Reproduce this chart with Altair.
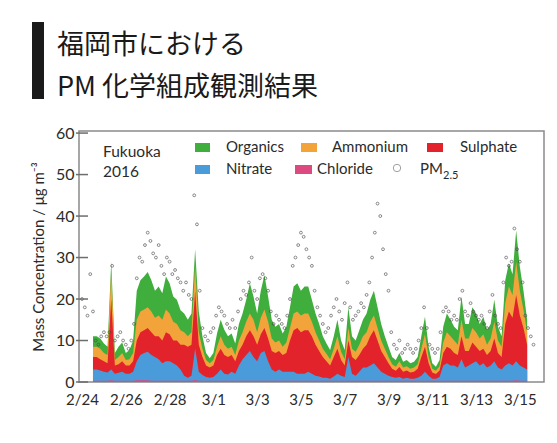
import altair as alt
import pandas as pd

# ---------------- data ----------------
# cumulative tops of the stacked composition, 4-hourly from 2016-02-24 12:00 UTC
total_top = [  # Organics top (= sum of all components)
    11, 11, 10.5,
    9.3, 8.5, 29, 7, 8.5, 9.5,
    7, 7.7, 10, 22, 24.5, 25.4,
    26.5, 24.5, 22, 23, 21.4, 25.4,
    23.8, 20.6, 19.8, 17.3, 16.5, 15,
    16.5, 32, 17, 11, 7, 5.7,
    7, 11.7, 15, 12.6, 11, 11.7,
    9.3, 14, 16.5, 19.8, 23.8, 20.6,
    16.5, 22, 25.8, 20.6, 15, 13.3,
    14, 11.7, 13.3, 18, 23, 23.8,
    22, 23, 23, 19.8, 16.5, 14,
    11, 9.3, 7.7, 11, 15, 10,
    7.7, 18, 11, 10, 12.5, 15,
    16.5, 19.8, 22, 18, 14, 11,
    8.5, 6, 5.3, 7, 4.9, 5.3,
    4.5, 4.9, 6, 11, 15.7, 8.5,
    4.5, 3.7, 5.3, 13.3, 16.5, 15,
    13.3, 12.5, 20.6, 14, 14, 18,
    16.5, 14, 15.7, 12.5, 14, 19.8,
    13.3, 11, 24.5, 28.6, 26, 36.5,
    27.8, 22, 15,
]
ammonium_top = [
    8.5, 8.5, 8,
    7, 6.5, 27, 5.3, 6, 7,
    5.3, 5.5, 7, 15, 17, 17.5,
    18, 17, 15.5, 16, 15, 17.5,
    16.5, 14.5, 14, 12.5, 12, 11,
    12, 28, 12, 8, 5.3, 4.5,
    5.3, 8.5, 11, 9, 8, 8.5,
    6.5, 10, 12, 14.5, 16.5, 15,
    12, 15.5, 17.5, 14.5, 10.5, 9.5,
    10, 8.5, 9.5, 13, 16.5, 17,
    16, 16.5, 16.5, 14.5, 12, 10,
    8, 6.8, 5.5, 8, 11, 7.3,
    5.5, 13, 8, 7.3, 9, 11,
    12, 14.5, 16, 13, 10, 8,
    6, 4.3, 3.7, 5, 3.5, 3.8,
    3.2, 3.5, 4.3, 8, 11.5, 6,
    3.2, 2.7, 3.8, 9.5, 12, 11,
    10, 9, 15, 10.5, 10.5, 13,
    12, 10.5, 11.5, 9, 10.5, 14.5,
    10, 8.5, 19, 23, 21, 29,
    22, 17.5, 12,
]
sulphate_top = [
    6, 6, 5.5,
    5, 4.5, 20, 4, 4.3, 5,
    4, 4, 5, 10, 12, 12.5,
    13, 12, 11, 11, 10, 12,
    11.5, 10, 10, 9, 9, 8.5,
    9, 22, 9, 6, 4, 3.5,
    4, 6.5, 8, 6.5, 6, 6.5,
    5, 7.5, 9, 11, 12.5, 11,
    9, 11.5, 13, 10.5, 7.5, 7,
    7.5, 6.5, 7, 10, 12.5, 13,
    12, 12.5, 12.5, 11, 9, 7.5,
    6, 5, 4, 6, 8, 5.3,
    4, 10, 6, 5.3, 6.5, 8,
    9, 11, 12.5, 10, 7.5, 6,
    4.5, 3.2, 2.7, 3.6, 2.5, 2.8,
    2.3, 2.5, 3.2, 6, 8.5, 4.5,
    2.3, 1.9, 2.8, 7, 8.5, 8,
    7, 6.5, 11, 7.5, 7.5, 9.5,
    8.5, 7.5, 8, 6.5, 7.5, 10.5,
    7, 6, 14, 17, 15.5, 21,
    16, 13, 9,
]
nitrate_top = [
    3, 3, 2.8,
    2.5, 2.3, 3, 2, 2.2, 2.5,
    2, 2, 2.5, 5, 6.5, 7,
    7.3, 6.5, 6, 5.5, 4.5, 5,
    5, 4.5, 4, 3, 1.5, 1,
    1.5, 8, 2.5, 1.7, 1.2, 1,
    1.2, 2, 3, 2, 1.8, 2.5,
    2, 4, 5.5, 6.5, 7.5, 6,
    5, 7, 7.5, 5, 3, 2.5,
    3, 2.5, 2.5, 2.5, 2.5, 2,
    2, 2, 2.5, 2, 1.5, 1.3,
    1, 1, 0.8, 1.3, 2, 1.5,
    1.2, 6, 2, 1.5, 2.5, 3.5,
    3.5, 4, 4.5, 3.5, 2.5, 2,
    1.5, 1.2, 1, 1.2, 0.8, 1,
    0.8, 0.8, 1, 1.5, 2.5, 1.5,
    0.8, 0.8, 1.2, 4, 4.5, 4,
    4, 3.5, 5.5, 3.5, 4, 4.5,
    5, 4, 4.5, 3.5, 4, 5,
    3.5, 3, 4, 4.5, 4, 5,
    4, 3.5, 3,
]
chloride = [
    0.3, 0.3, 0.3,
    0.3, 0.3, 0.4, 0.3, 0.3, 0.3,
    0.3, 0.3, 0.3, 0.4, 0.4, 0.4,
    0.4, 0.3, 0.3, 0.3, 0.3, 0.3,
    0.3, 0.3, 0.3, 0.3, 0.3, 0.3,
    0.3, 0.5, 0.3, 0.3, 0.3, 0.3,
    0.3, 0.3, 0.3, 0.3, 0.3, 0.3,
    0.3, 0.3, 0.3, 0.3, 0.3, 0.3,
    0.3, 0.3, 0.3, 0.3, 0.3, 0.3,
    0.3, 0.3, 0.3, 0.3, 0.3, 0.3,
    0.3, 0.3, 0.3, 0.3, 0.3, 0.3,
    0.3, 0.3, 0.3, 0.3, 0.3, 0.3,
    0.3, 0.3, 0.3, 0.3, 0.3, 0.3,
    0.3, 0.3, 0.3, 0.3, 0.3, 0.3,
    0.3, 0.3, 0.3, 0.3, 0.3, 0.3,
    0.3, 0.3, 0.3, 0.3, 0.3, 0.3,
    0.3, 0.3, 0.3, 0.3, 0.3, 0.3,
    0.3, 0.3, 0.3, 0.3, 0.3, 0.3,
    0.3, 0.3, 0.3, 0.3, 0.3, 0.3,
    0.3, 0.3, 0.3, 0.3, 0.3, 0.4,
    0.3, 0.3, 0.3,
]
# PM2.5 mass, 3-hourly from 2016-02-24 00:00 UTC
pm25 = [
    20, 18, 16, 26, 17,
    10, 9, 11, 12,
    11, 12, 28, 10,
    11, 12, 10, 9,
    8, 10, 14, 25,
    30, 29, 33, 36,
    34, 31, 30, 33,
    28, 26, 30, 29,
    26, 27, 25, 24,
    22, 24, 21, 20,
    45, 38, 22, 13,
    11, 10, 12, 13,
    16, 18, 17, 16,
    14, 13, 15, 13,
    17, 20, 22, 21,
    24, 30, 22, 20,
    25, 26, 25, 22,
    17, 14, 16, 15,
    14, 13, 16, 20,
    28, 30, 33, 36,
    35, 32, 30, 28,
    22, 18, 16, 14,
    12, 13, 16, 18,
    20, 17, 15, 19,
    24, 18, 15, 16,
    17, 19, 18, 21,
    24, 30, 36, 43,
    40, 32, 26, 22,
    12, 9, 8, 10,
    7, 8, 9, 8,
    7, 8, 10, 13,
    18, 13, 9, 8,
    7, 8, 12, 17,
    18, 17, 15, 16,
    15, 20, 22, 17,
    16, 19, 17, 16,
    15, 16, 14, 13,
    17, 21, 16, 14,
    13, 24, 30, 28,
    29, 37, 32, 29,
    24, 16, 13, 11,
    9,
]
tick_dates = [(2, 24), (2, 26), (2, 28), (3, 1), (3, 3), (3, 5), (3, 7),
              (3, 9), (3, 11), (3, 13), (3, 15)]
y_ticks = [0, 10, 20, 30, 40, 50, 60]
title_lines = ["福岡市における", "PM 化学組成観測結果"]

# ---------------- tables ----------------
t4 = pd.date_range("2016-02-24 12:00", periods=len(total_top), freq="4h")
comp = pd.DataFrame({
    "time": t4.strftime("%Y-%m-%dT%H:%M:%SZ"),
    "organics": total_top,
    "ammonium": ammonium_top,
    "sulphate": sulphate_top,
    "nitrate": nitrate_top,
    "chloride": chloride,
})
t3 = pd.date_range("2016-02-24 00:00", periods=len(pm25), freq="3h")
pm = pd.DataFrame({"time": t3.strftime("%Y-%m-%dT%H:%M:%SZ"), "pm25": pm25})
ticks_df = pd.DataFrame({"v": y_ticks})
one = pd.DataFrame({"a": [0]})

GREEN = "#3fae3c"
ORANGE = "#f2a43a"
RED = "#e2232b"
BLUE = "#4a9bd9"
PINK = "#dc4a80"
FONT = "Lato"
TXT = "#2b2b2b"

xscale = alt.Scale(
    type="utc",
    domain=[alt.DateTime(year=2016, month=2, date=23, hours=20, minutes=40, utc=True),
            alt.DateTime(year=2016, month=3, date=16, hours=2, minutes=30, utc=True)],
)
yscale = alt.Scale(domain=[0, 60.5], nice=False, zero=True)

xaxis = alt.Axis(
    values=[alt.DateTime(year=2016, month=m, date=d, utc=True) for m, d in tick_dates],
    format="%-m/%-d", title="", grid=False, domain=False, tickSize=0,
    labelPadding=10, labelFontSize=15, labelFont=FONT, labelColor=TXT,
    labelOverlap=False,
)
YTITLE = "Mass Concentration / μg m⁻³"
yaxis = alt.Axis(
    values=y_ticks, grid=False, domain=False, tickSize=0, labelPadding=5,
    labelFontSize=16, labelFont=FONT, labelColor=TXT,
    title=YTITLE, titleFont=FONT, titleFontSize=15,
    titleFontWeight="normal", titleColor=TXT, titlePadding=9,
)

X = alt.X("time:T", scale=xscale, axis=xaxis, title="")


def Y(field):
    return alt.Y(f"{field}:Q", scale=yscale, axis=yaxis, title=YTITLE)


def area(field, color):
    return alt.Chart(comp).mark_area(color=color, interpolate="linear").encode(
        x=X, y=Y(field))


layers = [
    area("organics", GREEN),
    area("ammonium", ORANGE),
    area("sulphate", RED),
    area("nitrate", BLUE),
    area("chloride", PINK),
    alt.Chart(pm).mark_point(shape="circle", filled=False, size=8,
                             strokeWidth=0.9, color="#444444").encode(
        x=X, y=Y("pm25")),
    alt.Chart(ticks_df).mark_rule(color="#6d6d6d", strokeWidth=1.5).encode(
        y=Y("v"), x=alt.value(-3), x2=alt.value(9)),
]


def rect(x1, x2, y1, y2, color):
    return alt.Chart(one).mark_rect(color=color).encode(
        x=alt.value(x1), x2=alt.value(x2), y=alt.value(y1), y2=alt.value(y2))


def text(s, x, y, size=15, color=TXT, font=FONT, weight="normal"):
    return alt.Chart(one).mark_text(text=s, align="left", baseline="alphabetic",
                                    fontSize=size, font=font, color=color,
                                    fontWeight=weight).encode(
        x=alt.value(x), y=alt.value(y))


legend = [
    text("Fukuoka", 24, 26, size=15.5),
    text("2016", 24, 46, size=15.5),
    rect(116, 131, 12, 21, GREEN), text("Organics", 147, 21),
    rect(222, 238, 12, 21, ORANGE), text("Ammonium", 253, 21),
    rect(348, 364, 12, 21, RED), text("Sulphate", 381, 21),
    rect(116, 131, 34, 43, BLUE), text("Nitrate", 147, 43),
    rect(216, 233, 34, 43, PINK), text("Chloride", 238, 43),
    alt.Chart(one).mark_point(shape="circle", filled=False, size=55,
                              strokeWidth=1, color="#777777").encode(
        x=alt.value(318), y=alt.value(37)),
    text("PM", 341, 43), text("2.5", 364, 48, size=11),
]

header = [
    rect(-47, -35, -109, -32, "#1a1a1a"),
    text(title_lines[0], -22, -77, size=27, color="#1a1a1a", font="Noto Sans CJK JP"),
    text(title_lines[1], -22, -35, size=27, color="#1a1a1a", font="Noto Sans CJK JP"),
]

chart = alt.layer(*layers, *legend, *header).properties(
    width=465, height=251,
    autosize=alt.AutoSizeParams(type="none"),
    padding={"left": 71, "top": 123, "right": 5, "bottom": 50},
    background="white",
).configure_view(stroke="#8a8a8a", strokeWidth=1.5)

chart.save("out.html", embed_options={"renderer": "svg", "actions": False})
